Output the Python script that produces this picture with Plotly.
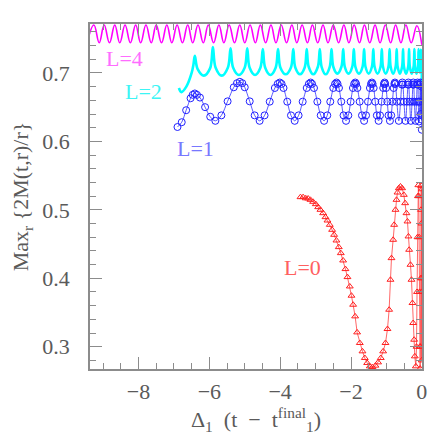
import plotly.graph_objects as go

# ---- L=4 (magenta) : peaks / troughs ----
l4_x = [-9.45, -9.26, -9.11, -8.97, -8.82, -8.67, -8.53, -8.38, -8.23, -8.08,
        -7.94, -7.79, -7.64, -7.50, -7.35, -7.20, -7.06, -6.91, -6.76, -6.61,
        -6.47, -6.32, -6.17, -6.03, -5.88, -5.73, -5.59, -5.44, -5.29, -5.14,
        -5.00, -4.85, -4.70, -4.56, -4.41, -4.26, -4.12, -3.97, -3.82, -3.67,
        -3.53, -3.38, -3.23, -3.09, -2.94, -2.79, -2.65, -2.50, -2.35, -2.20,
        -2.06, -1.91, -1.76, -1.62, -1.47, -1.32, -1.18, -1.03, -0.88, -0.74,
        -0.59, -0.45, -0.30, -0.14, 0.0]
l4_y = [0.744, 0.770, 0.744, 0.770, 0.744, 0.770, 0.744, 0.770, 0.744, 0.770,
        0.744, 0.770, 0.744, 0.770, 0.744, 0.770, 0.744, 0.770, 0.744, 0.770,
        0.744, 0.770, 0.744, 0.770, 0.744, 0.770, 0.744, 0.770, 0.744, 0.770,
        0.744, 0.770, 0.744, 0.770, 0.744, 0.770, 0.744, 0.770, 0.744, 0.770,
        0.744, 0.770, 0.744, 0.770, 0.744, 0.770, 0.744, 0.770, 0.744, 0.770,
        0.744, 0.770, 0.744, 0.770, 0.744, 0.770, 0.744, 0.770, 0.744, 0.770,
        0.744, 0.770, 0.744, 0.769, 0.741]

# ---- L=2 (cyan) ----
l2_x = [-6.86, -6.79, -6.65, -6.50, -6.45, -6.41,
        -6.333, -6.155, -5.977, -5.90,
        -5.825, -5.65, -5.475, -5.40,
        -5.33, -5.165, -5.00, -4.93,
        -4.864, -4.71, -4.556, -4.49,
        -4.425, -4.275, -4.125, -4.06,
        -3.995, -3.845, -3.695, -3.63,
        -3.573, -3.44, -3.307, -3.25,
        -3.195, -3.065, -2.935, -2.88,
        -2.83, -2.715, -2.60, -2.55,
        -2.50, -2.385, -2.27, -2.22,
        -2.175, -2.07, -1.965, -1.92,
        -1.876, -1.775, -1.674, -1.63,
        -1.591, -1.50, -1.409, -1.37,
        -1.334, -1.25, -1.166, -1.13,
        -1.097, -1.02, -0.943, -0.91,
        -0.88, -0.81, -0.74, -0.71,
        -0.683, -0.62, -0.557, -0.53,
        -0.505, -0.445, -0.385, -0.36,
        -0.338, -0.285, -0.232, -0.21,
        -0.192, -0.15, -0.108, -0.09,
        -0.055, -0.03, -0.015, -0.007, 0.0]
l2_y = [0.678, 0.672, 0.680, 0.700, 0.712, 0.725,
        0.706, 0.696, 0.707, 0.738,
        0.708, 0.696, 0.708, 0.736,
        0.708, 0.697, 0.708, 0.736,
        0.708, 0.697, 0.708, 0.735,
        0.708, 0.697, 0.708, 0.735,
        0.708, 0.698, 0.708, 0.735,
        0.708, 0.698, 0.708, 0.735,
        0.709, 0.698, 0.709, 0.735,
        0.709, 0.698, 0.709, 0.735,
        0.709, 0.699, 0.709, 0.735,
        0.709, 0.699, 0.709, 0.735,
        0.709, 0.699, 0.709, 0.735,
        0.709, 0.699, 0.709, 0.735,
        0.709, 0.699, 0.709, 0.735,
        0.709, 0.699, 0.709, 0.735,
        0.709, 0.699, 0.709, 0.735,
        0.709, 0.699, 0.709, 0.735,
        0.709, 0.699, 0.709, 0.735,
        0.709, 0.699, 0.709, 0.735,
        0.709, 0.699, 0.709, 0.735,
        0.700, 0.734, 0.700, 0.733, 0.687]

# ---- L=1 (blue circles) ----
l1_x = [-6.90, -6.78, -6.655, -6.53, -6.47, -6.41, -6.35,
        -6.265, -6.12, -5.975, -5.83,
        -5.66, -5.485, -5.31, -5.22, -5.14, -5.07,
        -5.00, -4.86, -4.72, -4.58,
        -4.44, -4.295, -4.15, -4.07, -4.01, -3.96,
        -3.905, -3.80, -3.695, -3.59,
        -3.48, -3.365, -3.25, -3.19, -3.14, -3.10,
        -3.045, -2.95, -2.855, -2.76,
        -2.67, -2.585, -2.50, -2.45, -2.41, -2.38,
        -2.34, -2.275, -2.21, -2.14,
        -2.075, -2.01, -1.945, -1.91, -1.88, -1.855,
        -1.82, -1.755, -1.69, -1.63,
        -1.575, -1.52, -1.465, -1.435, -1.41, -1.39,
        -1.36, -1.315, -1.27, -1.22,
        -1.18, -1.135, -1.09, -1.07, -1.05, -1.035,
        -1.01, -0.975, -0.94, -0.90,
        -0.865, -0.83, -0.795, -0.775, -0.76, -0.745,
        -0.705, -0.65, -0.60, -0.565, -0.55, -0.535,
        -0.505, -0.46, -0.42, -0.39, -0.38, -0.37,
        -0.345, -0.31, -0.275, -0.25, -0.24, -0.23,
        -0.21, -0.18, -0.15, -0.13, -0.12, -0.11,
        -0.10, -0.08, -0.06, -0.045, -0.04,
        -0.03, -0.02, -0.012, -0.006, 0.0]
l1_y = [0.621, 0.628, 0.6455, 0.663, 0.668, 0.670, 0.668,
        0.664, 0.650, 0.636, 0.630,
        0.638, 0.6585, 0.679, 0.685, 0.687, 0.685,
        0.679, 0.6585, 0.638, 0.630,
        0.638, 0.658, 0.678, 0.684, 0.686, 0.684,
        0.678, 0.658, 0.638, 0.630,
        0.638, 0.658, 0.678, 0.684, 0.686, 0.684,
        0.678, 0.658, 0.638, 0.630,
        0.638, 0.658, 0.678, 0.684, 0.686, 0.684,
        0.678, 0.658, 0.638, 0.630,
        0.638, 0.658, 0.678, 0.684, 0.686, 0.684,
        0.678, 0.658, 0.638, 0.630,
        0.638, 0.658, 0.678, 0.684, 0.686, 0.684,
        0.678, 0.658, 0.638, 0.630,
        0.638, 0.658, 0.678, 0.684, 0.686, 0.684,
        0.678, 0.658, 0.638, 0.630,
        0.638, 0.658, 0.678, 0.684, 0.686, 0.684,
        0.658, 0.630, 0.658, 0.683, 0.686, 0.683,
        0.658, 0.630, 0.658, 0.683, 0.686, 0.683,
        0.658, 0.630, 0.658, 0.683, 0.686, 0.683,
        0.658, 0.630, 0.658, 0.683, 0.686, 0.683,
        0.658, 0.629, 0.658, 0.683, 0.686,
        0.640, 0.685, 0.632, 0.680, 0.617]

# ---- L=0 (red triangles) ----
l0_x = [-3.427, -3.352, -3.277, -3.211, -3.145, -3.070, -2.994, -2.928, -2.863, -2.787,
        -2.721, -2.665, -2.599, -2.533, -2.477, -2.411, -2.345, -2.288, -2.222, -2.157,
        -2.100, -2.034, -1.987, -1.940, -1.883, -1.827, -1.751, -1.676, -1.610, -1.544,
        -1.469, -1.394, -1.309, -1.234, -1.158, -1.092, -1.026, -0.970, -0.923, -0.885,
        -0.857, -0.810, -0.782, -0.744, -0.715, -0.687, -0.650, -0.603, -0.556, -0.508,
        -0.471, -0.433, -0.405, -0.377, -0.358, -0.320, -0.292, -0.264, -0.245, -0.217,
        -0.198, -0.169, -0.150, -0.135, -0.122, -0.110, -0.098, -0.085, -0.075, -0.065,
        -0.055, -0.048, -0.040, -0.032, -0.025, -0.018, -0.012, -0.008, -0.004, -0.002,
        0.0]
l0_y = [0.5185, 0.5185, 0.5168, 0.5165, 0.5146, 0.5117, 0.5083, 0.5039, 0.5000, 0.4951,
        0.4893, 0.4844, 0.4781, 0.4708, 0.4635, 0.4552, 0.4455, 0.4367, 0.4260, 0.4134,
        0.4017, 0.3880, 0.3745, 0.3613, 0.3443, 0.3209, 0.3054, 0.2932, 0.2835, 0.2762,
        0.2713, 0.2703, 0.2723, 0.2771, 0.2835, 0.2932, 0.3054, 0.3258, 0.3540, 0.3978,
        0.4294, 0.4562, 0.4781, 0.5000, 0.5146, 0.5253, 0.5316, 0.5341, 0.5316, 0.5219,
        0.5097, 0.4951, 0.4830, 0.4611, 0.4416, 0.4197, 0.3978, 0.3638, 0.3346, 0.3102,
        0.2859, 0.2713, 0.300, 0.380, 0.460, 0.520, 0.536, 0.520, 0.460, 0.380,
        0.300, 0.268, 0.300, 0.400, 0.500, 0.535, 0.480, 0.380, 0.280, 0.400,
        0.530]

# curve labels
label_text = ["L=4", "L=2", "L=1", "L=0"]
label_x = [-8.39, -7.85, -6.38, -3.36]
label_y = [0.7204, 0.6723, 0.589, 0.4153]
label_color = ["#ff6cff", "#3cf5f5", "#7878ff", "#ff6060"]

serif = "Liberation Serif"
nb = "\u00a0"

fig = go.Figure()

fig.add_trace(go.Scatter(x=l4_x, y=l4_y, mode="lines",
                         line=dict(color="#ff00ff", width=1.6, shape="spline", smoothing=1.2)))
fig.add_trace(go.Scatter(x=l2_x, y=l2_y, mode="lines",
                         line=dict(color="#00ffff", width=2.6, shape="spline")))
fig.add_trace(go.Scatter(x=l1_x, y=l1_y, mode="lines+markers",
                         line=dict(color="#3030ff", width=0.8, shape="spline"),
                         marker=dict(symbol="circle-open", size=7, color="#2020ff",
                                     line=dict(width=1))))
fig.add_trace(go.Scatter(x=l0_x, y=l0_y, mode="lines+markers",
                         line=dict(color="#ff4040", width=0.8),
                         marker=dict(symbol="triangle-up-open", size=6, color="#ff2020",
                                     line=dict(width=1))))

for t, x, y, c in zip(label_text, label_x, label_y, label_color):
    fig.add_annotation(x=x, y=y, text=t, showarrow=False,
                       font=dict(family=serif, size=22, color=c))

axis_common = dict(
    showgrid=False, zeroline=False, showline=True, linecolor="#8c8c8c", linewidth=1.5,
    mirror="ticks", ticks="inside", tickcolor="#8c8c8c", tickwidth=1.2,
    tickfont=dict(family=serif, size=22, color="#5a5a5a"), automargin=False,
)

x_title = ("Δ<sub>1</sub>" + nb * 2 + "(t" + nb * 2 + "−" + nb * 2
           + "t<sup>final</sup><sub>1</sub>)")

fig.update_xaxes(
    range=[-9.37, 0.005], dtick=2, ticklen=12, ticklabelstandoff=2,
    minor=dict(dtick=0.5, ticks="inside", ticklen=6, tickcolor="#8c8c8c"),
    title=dict(text=x_title,
               font=dict(family=serif, size=22, color="#5a5a5a"), standoff=4),
    **axis_common,
)
fig.update_yaxes(
    range=[0.2674, 0.7715], dtick=0.1, ticklen=12, ticklabelstandoff=14,
    minor=dict(dtick=0.02, ticks="inside", ticklen=6, tickcolor="#8c8c8c"),
    title=dict(text="Max<sub>r</sub>" + nb + "{2M(t,r)/r}",
               font=dict(family=serif, size=22, color="#5a5a5a"), standoff=15),
    **axis_common,
)

# the page body adds an 8px offset, so the figure is 428 wide/high
fig.update_layout(
    width=428, height=428,
    margin=dict(l=82, r=14, t=16, b=67),
    plot_bgcolor="white", paper_bgcolor="white",
    showlegend=False,
)

fig.write_html("out.html")
